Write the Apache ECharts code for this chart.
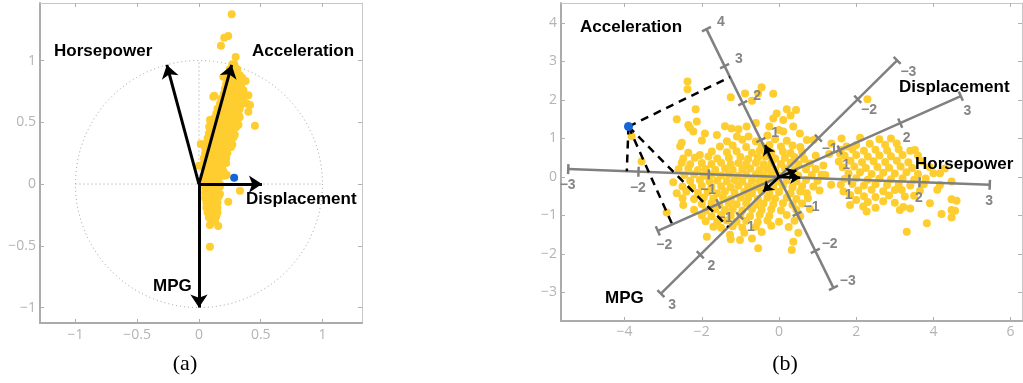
<!DOCTYPE html>
<html><head><meta charset="utf-8">
<script src="https://cdn.jsdelivr.net/npm/echarts@6/dist/echarts.min.js"></script>
<style>html,body{margin:0;padding:0;background:#fff}#c{width:1023px;height:383px}</style>
</head><body><div id="c"></div>
<script>
// ---------------- DATA ----------------
const ticksA = [-1, -0.5, 0, 0.5, 1];
const xTicksB = [-4, -2, 0, 2, 4, 6];
const yTicksB = [-3, -2, -1, 0, 1, 2, 3, 4];
const varNames = ['Horsepower', 'Displacement', 'MPG', 'Acceleration'];
// (a) loading arrows
const loadX = [-0.26, 0.51, 0.0, 0.265];
const loadY = [0.965, 0.0, -1.0, 0.965];
const pointA = [0.285, 0.051];
const pointB = [-3.9, 1.31];
// (b) biplot axes: one tick step vector and tick range
const bpUnitX = [1.82, 1.57, -1.02, -0.47];
const bpUnitY = [-0.068, 0.70, -1.01, 0.96];
const bpMin = [-3, -2, -3, -3];
const bpMax = [3, 3, 3, 4];
// (b) arrows
const arrowBX = [0.55, 0.45, -0.41, -0.36];
const arrowBY = [-0.02, 0.17, -0.38, 0.83];

const scatterA = [
[0.265,1.374],[0.237,1.198],[0.205,1.185],[0.178,1.12],[0.297,1.028],[0.286,0.969],
[0.197,0.869],[0.378,0.834],[0.40,0.72],[0.386,0.653],[0.40,0.585],[0.413,0.64],[0.453,0.472],
[0.124,0.715],[0.116,0.707],[0.089,0.518],[0.083,0.464],[0.014,0.324],[0.0,0.148],[0.208,0.067],
[0.224,0.073],[0.332,-0.054],[0.237,-0.143],[0.089,-0.332],[0.156,-0.34],[0.089,-0.508],
[0.27,0.97],[0.29,0.95],
[0.25,0.93],[0.28,0.92],[0.31,0.93],
[0.24,0.89],[0.27,0.88],[0.30,0.9],[0.33,0.88],
[0.23,0.85],[0.26,0.86],[0.29,0.84],[0.32,0.85],[0.35,0.86],
[0.22,0.81],[0.25,0.8],[0.28,0.82],[0.31,0.81],[0.34,0.8],
[0.21,0.77],[0.24,0.78],[0.27,0.76],[0.30,0.77],[0.33,0.78],[0.36,0.76],
[0.2,0.73],[0.23,0.72],[0.26,0.74],[0.29,0.73],[0.32,0.72],[0.35,0.74],
[0.18,0.69],[0.21,0.7],[0.24,0.68],[0.27,0.69],[0.3,0.7],[0.33,0.68],[0.36,0.69],
[0.17,0.65],[0.2,0.64],[0.23,0.66],[0.26,0.65],[0.29,0.64],[0.32,0.66],[0.35,0.65],
[0.15,0.61],[0.18,0.62],[0.21,0.6],[0.24,0.61],[0.27,0.62],[0.3,0.6],[0.33,0.61],
[0.14,0.57],[0.17,0.56],[0.2,0.58],[0.23,0.57],[0.26,0.56],[0.29,0.58],[0.32,0.57],
[0.12,0.53],[0.15,0.54],[0.18,0.52],[0.21,0.53],[0.24,0.54],[0.27,0.52],[0.3,0.53],[0.33,0.54],
[0.11,0.49],[0.14,0.48],[0.17,0.5],[0.2,0.49],[0.23,0.48],[0.26,0.5],[0.29,0.49],[0.32,0.48],
[0.09,0.45],[0.12,0.46],[0.15,0.44],[0.18,0.45],[0.21,0.46],[0.24,0.44],[0.27,0.45],[0.3,0.46],
[0.08,0.41],[0.11,0.4],[0.14,0.42],[0.17,0.41],[0.2,0.4],[0.23,0.42],[0.26,0.41],[0.29,0.4],
[0.07,0.37],[0.1,0.38],[0.13,0.36],[0.16,0.37],[0.19,0.38],[0.22,0.36],[0.25,0.37],[0.28,0.38],
[0.06,0.33],[0.09,0.32],[0.12,0.34],[0.15,0.33],[0.18,0.32],[0.21,0.34],[0.24,0.33],[0.27,0.32],
[0.05,0.29],[0.08,0.3],[0.11,0.28],[0.14,0.29],[0.17,0.3],[0.2,0.28],[0.23,0.29],[0.26,0.3],
[0.05,0.25],[0.08,0.24],[0.11,0.26],[0.14,0.25],[0.17,0.24],[0.2,0.26],[0.23,0.25],
[0.04,0.21],[0.07,0.22],[0.1,0.2],[0.13,0.21],[0.16,0.22],[0.19,0.2],[0.22,0.21],
[0.04,0.17],[0.07,0.16],[0.1,0.18],[0.13,0.17],[0.16,0.16],[0.19,0.18],[0.22,0.17],
[0.04,0.13],[0.07,0.14],[0.1,0.12],[0.13,0.13],[0.16,0.14],[0.19,0.12],
[0.05,0.09],[0.08,0.08],[0.11,0.1],[0.14,0.09],[0.17,0.08],[0.2,0.1],
[0.05,0.05],[0.08,0.06],[0.11,0.04],[0.14,0.05],[0.17,0.06],
[0.05,0.01],[0.08,0.0],[0.11,0.02],[0.14,0.01],[0.17,0.0],
[0.05,-0.03],[0.08,-0.02],[0.11,-0.04],[0.14,-0.03],[0.17,-0.02],
[0.05,-0.07],[0.08,-0.08],[0.11,-0.06],[0.14,-0.07],[0.17,-0.08],
[0.05,-0.11],[0.08,-0.1],[0.11,-0.12],[0.14,-0.11],[0.16,-0.1],
[0.06,-0.15],[0.09,-0.16],[0.12,-0.14],[0.15,-0.15],
[0.06,-0.19],[0.09,-0.18],[0.12,-0.2],[0.15,-0.19],
[0.07,-0.23],[0.1,-0.24],[0.13,-0.22],[0.15,-0.23],
[0.08,-0.27],[0.11,-0.28],[0.14,-0.26],
[0.1,-0.31],[0.13,-0.3]
];

const scatterB = [
[-2.37,2.48],[-2.37,2.28],[-1.25,2.07],[-0.88,2.17],[-0.54,2.17],[-0.45,2.33],[-0.15,2.16],[-0.7,1.98],
[-2.16,1.76],[0.2,1.76],[0.44,1.74],[-0.06,1.65],[-0.15,1.52],[0.3,1.6],[0.11,1.48],[2.29,2.02],
[-2.65,1.5],[-2.35,1.35],[-2.13,1.44],[-1.4,1.32],[-0.6,1.4],[-0.25,1.31],
[-2.31,1.28],[-1.23,1.26],[-1.05,1.24],[-0.84,1.31],[0.37,1.31],[0.0,1.22],
[-2.22,1.18],[-1.92,1.13],[-1.61,1.09],[-1.09,1.05],[-0.79,1.05],[0.11,1.18],[0.54,1.13],[-0.3,1.08],
[-2.52,0.89],[-2.0,0.95],[-1.35,0.93],[-0.95,0.97],[-0.6,0.92],[-0.1,0.98],[0.2,0.94],[0.72,0.96],[0.89,0.96],
[-2.56,0.8],[-1.53,0.79],[-1.2,0.82],[-0.85,0.78],[-0.45,0.8],[-0.25,0.83],[0.05,0.79],[0.35,0.82],[0.55,0.78],
[-2.35,0.63],[-2.05,0.57],[-1.74,0.66],[-1.35,0.64],[-1.1,0.67],[-0.7,0.63],[-0.5,0.68],[-0.2,0.64],[0.1,0.66],[0.3,0.62],[0.6,0.65],
[-2.48,0.48],[-2.18,0.5],[-1.83,0.53],[-1.6,0.48],[-1.3,0.5],[-1.0,0.52],[-0.8,0.47],[-0.55,0.5],[-0.35,0.53],[-0.1,0.48],[0.15,0.5],[0.4,0.52],[0.65,0.47],
[-3.56,0.4],[-2.52,0.37],[-2.3,0.33],[-2.0,0.36],[-1.75,0.34],[-1.5,0.37],[-1.25,0.33],[-1.05,0.36],[-0.85,0.34],[-0.6,0.37],[-0.4,0.33],[-0.2,0.36],[0.05,0.34],[0.3,0.37],[0.5,0.33],[0.8,0.35],
[-2.6,0.2],[-2.35,0.22],[-2.1,0.18],[-1.9,0.21],[-1.65,0.19],[-1.4,0.22],[-1.2,0.18],[-0.95,0.2],[-0.75,0.22],[-0.5,0.18],[-0.3,0.21],[-0.1,0.19],[0.15,0.22],[0.4,0.18],[0.7,0.2],[0.95,0.21],
[-2.45,0.05],[-2.2,0.07],[-1.95,0.03],[-1.75,0.06],[-1.5,0.04],[-1.3,0.07],[-1.05,0.03],[-0.85,0.05],[-0.6,0.07],[-0.4,0.03],[-0.2,0.06],[0.0,0.04],[0.25,0.07],[0.5,0.03],[0.85,0.05],[1.1,0.06],
[-2.74,-0.14],[-2.3,-0.1],[-2.05,-0.08],[-1.8,-0.12],[-1.6,-0.09],[-1.35,-0.11],[-1.15,-0.08],[-0.95,-0.12],[-0.7,-0.09],[-0.5,-0.11],[-0.3,-0.08],[-0.05,-0.12],[0.2,-0.09],[0.45,-0.11],[0.7,-0.08],[1.0,-0.1],
[-2.5,-0.25],[-2.25,-0.27],[-2.0,-0.23],[-1.75,-0.26],[-1.5,-0.24],[-1.25,-0.27],[-1.05,-0.23],[-0.8,-0.25],[-0.6,-0.27],[-0.4,-0.24],[-0.15,-0.26],[0.1,-0.23],[0.35,-0.27],[0.6,-0.24],[0.89,-0.25],
[-2.65,-0.42],[-2.4,-0.38],[-2.1,-0.41],[-1.85,-0.39],[-1.6,-0.42],[-1.4,-0.38],[-1.15,-0.41],[-0.9,-0.39],[-0.7,-0.42],[-0.45,-0.38],[-0.25,-0.41],[0.0,-0.39],[0.3,-0.42],[0.55,-0.38],[0.72,-0.42],
[-2.5,-0.55],[-2.2,-0.57],[-1.95,-0.53],[-1.7,-0.56],[-1.45,-0.54],[-1.25,-0.57],[-1.0,-0.53],[-0.8,-0.55],[-0.55,-0.57],[-0.3,-0.54],[-0.1,-0.56],[0.2,-0.53],[0.45,-0.57],[0.75,-0.55],
[-2.48,-0.73],[-2.0,-0.7],[-1.75,-0.68],[-1.55,-0.72],[-1.3,-0.69],[-1.1,-0.71],[-0.85,-0.68],[-0.6,-0.72],[-0.4,-0.69],[-0.15,-0.71],[0.1,-0.68],[0.35,-0.72],[0.6,-0.69],
[-2.91,-0.92],[-2.2,-0.85],[-1.9,-0.87],[-1.65,-0.83],[-1.4,-0.86],[-1.2,-0.84],[-0.95,-0.87],[-0.7,-0.83],[-0.45,-0.86],[-0.2,-0.84],[0.05,-0.87],[0.45,-0.85],[0.8,-0.83],
[-2.0,-1.0],[-1.75,-1.02],[-1.5,-0.98],[-1.25,-1.01],[-1.0,-0.99],[-0.75,-1.02],[-0.5,-0.98],[-0.25,-1.01],[0.2,-0.99],[0.55,-1.02],
[-1.9,-1.15],[-1.6,-1.17],[-1.35,-1.13],[-1.1,-1.16],[-0.85,-1.14],[-0.55,-1.17],[-0.3,-1.13],[0.0,-1.16],[0.4,-1.14],
[-1.7,-1.29],[-1.5,-1.32],[-1.2,-1.28],[-0.95,-1.31],[-0.6,-1.29],[-0.2,-1.27],[0.25,-1.3],
[-1.87,-1.55],[-1.27,-1.5],[-0.9,-1.45],[-0.45,-1.43],[0.5,-1.45],
[-1.01,-1.64],[-1.25,-1.62],[-0.7,-1.6],[0.37,-1.68],
[-0.54,-1.85],[0.33,-1.9],
[-3.82,1.06],
[1.36,0.87],[1.62,1.0],[1.58,0.61],[1.75,0.79],[0.95,0.55],[1.15,0.3],[1.3,0.6],[1.2,0.05],[1.05,-0.35],[1.35,-0.2],
[1.67,-0.38],[1.84,-0.47],[2.0,-0.6],[1.84,-0.73],[2.18,-0.77],[2.27,-0.9],
[2.1,1.02],[2.6,0.98],[2.9,1.0],
[2.0,0.83],[2.35,0.86],[2.75,0.84],[3.05,0.87],
[1.6,0.7],[1.9,0.72],[2.2,0.68],[2.5,0.71],[2.8,0.69],[3.1,0.72],[3.4,0.68],[3.52,0.7],
[1.7,0.55],[2.0,0.57],[2.3,0.53],[2.6,0.56],[2.9,0.54],[3.2,0.57],[3.6,0.55],
[1.55,0.4],[1.85,0.42],[2.15,0.38],[2.45,0.41],[2.75,0.39],[3.05,0.42],[3.35,0.38],[3.7,0.41],
[1.65,0.25],[1.95,0.27],[2.25,0.23],[2.55,0.26],[2.85,0.24],[3.15,0.27],[3.45,0.23],[3.9,0.26],[4.3,0.22],
[1.8,0.1],[2.1,0.12],[2.4,0.08],[2.7,0.11],[3.0,0.09],[3.3,0.12],[3.6,0.08],[4.0,0.1],[4.17,0.1],
[1.7,-0.05],[2.0,-0.03],[2.3,-0.07],[2.6,-0.04],[2.9,-0.06],[3.2,-0.03],[3.5,-0.07],[3.8,-0.04],[4.47,-0.12],
[1.6,-0.2],[1.9,-0.18],[2.2,-0.22],[2.5,-0.19],[2.8,-0.21],[3.1,-0.18],[3.4,-0.22],[3.75,-0.19],[4.17,-0.21],
[2.05,-0.35],[2.4,-0.33],[2.7,-0.37],[3.0,-0.34],[3.18,-0.34],[3.65,-0.36],[4.1,-0.33],
[2.2,-0.5],[2.5,-0.52],[2.85,-0.48],[3.26,-0.51],[3.5,-0.49],[4.47,-0.58],
[2.3,-0.65],[2.7,-0.63],[3.0,-0.67],[3.91,-0.68],[4.6,-0.62],
[2.5,-0.8],[3.13,-0.86],[3.22,-0.78],[3.4,-0.82],[4.47,-0.86],[4.56,-0.88],
[4.21,-0.96],[4.47,-1.05],
[3.83,-1.2],[3.31,-1.42]
];

// ---------------- STYLE / LAYOUT ----------------
const YELLOW = '#FECD2F';
const BLUE = '#1766D9';
const GRAY = '#808080';
const bpLabelSide = [1, 1, -1, 1];
const fmt = v => (v < 0 ? '\u2212' : '') + Math.abs(v);
const tickFont = {color: '#b4b4b4', fontSize: 14, fontFamily: '"Open Sans", sans-serif'};
const boldFont = 'bold 17px "Liberation Sans", Arial, sans-serif';
const captionFont = '22px "Liberation Serif", "Times New Roman", serif';

function frameAxis(grid, min, max, ticks, pos, main, margin) {
  return {
    gridIndex: grid, type: 'value', min: min, max: max, position: pos,
    axisLine: {show: true, onZero: false, lineStyle: {color: main ? '#ababab' : '#c6c6c6', width: main ? 2 : 1}},
    axisTick: {show: true, inside: true, length: 4, customValues: ticks, lineStyle: {color: '#b0b0b0', width: 1}},
    axisLabel: Object.assign({show: main, customValues: ticks, formatter: fmt, margin: margin}, tickFont),
    splitLine: {show: false}
  };
}

const chart = echarts.init(document.getElementById('c'), null, {renderer: 'canvas'});

const projB = varNames.map((n, i) => {
  const ux = bpUnitX[i], uy = bpUnitY[i];
  const t = (pointB[0] * ux + pointB[1] * uy) / (ux * ux + uy * uy);
  return {coords: [pointB, [t * ux, t * uy]]};
});

const textEl = (txt, x, y, font, align) => ({
  type: 'text', x: x, y: y, z: 100,
  style: {text: txt, font: font, fill: '#000', align: align || 'left', textAlign: align || 'left',
          verticalAlign: 'middle', textVerticalAlign: 'middle'}
});

chart.setOption({
  animation: false,
  grid: [
    {left: 40, top: 3, width: 322, height: 320},
    {left: 561, top: 3, width: 461, height: 318}
  ],
  xAxis: [
    frameAxis(0, -1.287, 1.320, ticksA, 'bottom', true, 5),
    frameAxis(0, -1.287, 1.320, ticksA, 'top', false, 5),
    frameAxis(1, -5.648, 6.295, xTicksB, 'bottom', true, 4),
    frameAxis(1, -5.648, 6.295, xTicksB, 'top', false, 4)
  ],
  yAxis: [
    frameAxis(0, -1.125, 1.466, ticksA, 'left', true, 4),
    frameAxis(0, -1.125, 1.466, ticksA, 'right', false, 4),
    frameAxis(1, -3.741, 4.519, yTicksB, 'left', true, 4),
    frameAxis(1, -3.741, 4.519, yTicksB, 'right', false, 4)
  ],
  graphic: [
    textEl('Horsepower', 54, 51, boldFont),
    textEl('Acceleration', 252, 51, boldFont),
    textEl('Displacement', 246, 199.5, boldFont),
    textEl('MPG', 153, 286, boldFont),
    textEl('Acceleration', 580, 27.5, boldFont),
    textEl('Displacement', 899, 87, boldFont),
    textEl('Horsepower', 915, 164.5, boldFont),
    textEl('MPG', 605, 298, boldFont),
    textEl('(a)', 185, 364, captionFont, 'center'),
    textEl('(b)', 785, 364, captionFont, 'center')
  ],
  series: [
    // ----- (a) -----
    {
      type: 'custom', xAxisIndex: 0, yAxisIndex: 0, data: [[0, 0]], silent: true, z: 1,
      renderItem: (params, api) => {
        const c = api.coord([0, 0]);
        const s = api.size([1, 1]);
        const h0 = api.coord([-1, 0]), h1 = api.coord([1, 0]);
        const v0 = api.coord([0, -1]), v1 = api.coord([0, 1]);
        const st = {stroke: '#9a9a9a', lineWidth: 1, lineDash: [1, 3], fill: null};
        return {type: 'group', children: [
          {type: 'circle', shape: {cx: c[0], cy: c[1], r: s[0]}, style: Object.assign({}, st, {fill: 'none'})},
          {type: 'line', shape: {x1: h0[0], y1: h0[1], x2: h1[0], y2: h1[1]}, style: st},
          {type: 'line', shape: {x1: v0[0], y1: v0[1], x2: v1[0], y2: v1[1]}, style: st}
        ]};
      }
    },
    {type: 'scatter', xAxisIndex: 0, yAxisIndex: 0, data: scatterA, symbolSize: 8, silent: true, z: 2,
     itemStyle: {color: YELLOW, opacity: 1}},
    {type: 'lines', coordinateSystem: 'cartesian2d', xAxisIndex: 0, yAxisIndex: 0, silent: true, z: 5,
     data: varNames.map((n, i) => ({name: n, coords: [[0, 0], [loadX[i], loadY[i]]]})),
     symbol: ['none', 'arrow'], symbolSize: [9, 13], symbolOffset: [0, '50%'],
     lineStyle: {color: '#000', width: 3, opacity: 1, type: 'solid'}},
    {type: 'scatter', xAxisIndex: 0, yAxisIndex: 0, data: [pointA], symbolSize: 8, silent: true, z: 6,
     itemStyle: {color: BLUE, opacity: 1}},
    // ----- (b) -----
    {type: 'scatter', xAxisIndex: 2, yAxisIndex: 2, data: scatterB, symbolSize: 8, silent: true, z: 2,
     itemStyle: {color: YELLOW, opacity: 1}},
    {
      type: 'custom', xAxisIndex: 2, yAxisIndex: 2, data: varNames.map((n, i) => [i, 0]), silent: true, z: 3,
      renderItem: (params, api) => {
        const i = params.dataIndex;
        const ux = bpUnitX[i], uy = bpUnitY[i];
        const p0 = api.coord([bpMin[i] * ux, bpMin[i] * uy]);
        const p1 = api.coord([bpMax[i] * ux, bpMax[i] * uy]);
        let dx = p1[0] - p0[0], dy = p1[1] - p0[1];
        const L = Math.hypot(dx, dy); dx /= L; dy /= L;
        const nx = -dy, ny = dx, side = bpLabelSide[i];
        const st = {stroke: GRAY, lineWidth: 2.5};
        const ch = [{type: 'line', shape: {x1: p0[0], y1: p0[1], x2: p1[0], y2: p1[1]}, style: st}];
        for (let k = bpMin[i]; k <= bpMax[i]; k++) {
          if (k === 0) continue;
          const p = api.coord([k * ux, k * uy]);
          ch.push({type: 'line', shape: {x1: p[0] - nx * 5, y1: p[1] - ny * 5, x2: p[0] + nx * 5, y2: p[1] + ny * 5}, style: st});
          ch.push({type: 'text', x: p[0] + side * nx * 16, y: p[1] + side * ny * 16,
                   style: {text: fmt(k), fill: '#858585', font: 'bold 14px "Liberation Sans", Arial, sans-serif',
                           align: 'center', verticalAlign: 'middle', textAlign: 'center', textVerticalAlign: 'middle'}});
        }
        return {type: 'group', children: ch};
      }
    },
    {type: 'lines', coordinateSystem: 'cartesian2d', xAxisIndex: 2, yAxisIndex: 2, silent: true, z: 4,
     data: projB, symbol: 'none', lineStyle: {color: '#000', width: 2.5, opacity: 1, type: [8, 6]}},
    {type: 'lines', coordinateSystem: 'cartesian2d', xAxisIndex: 2, yAxisIndex: 2, silent: true, z: 5,
     data: varNames.map((n, i) => ({name: n, coords: [[0, 0], [arrowBX[i], arrowBY[i]]]})),
     symbol: ['none', 'arrow'], symbolSize: [7, 10], symbolOffset: [0, '50%'],
     lineStyle: {color: '#000', width: 2.5, opacity: 1, type: 'solid'}},
    {type: 'scatter', xAxisIndex: 2, yAxisIndex: 2, data: [pointB], symbolSize: 9, silent: true, z: 6,
     itemStyle: {color: BLUE, opacity: 1}}
  ]
});
</script>
</body></html>
